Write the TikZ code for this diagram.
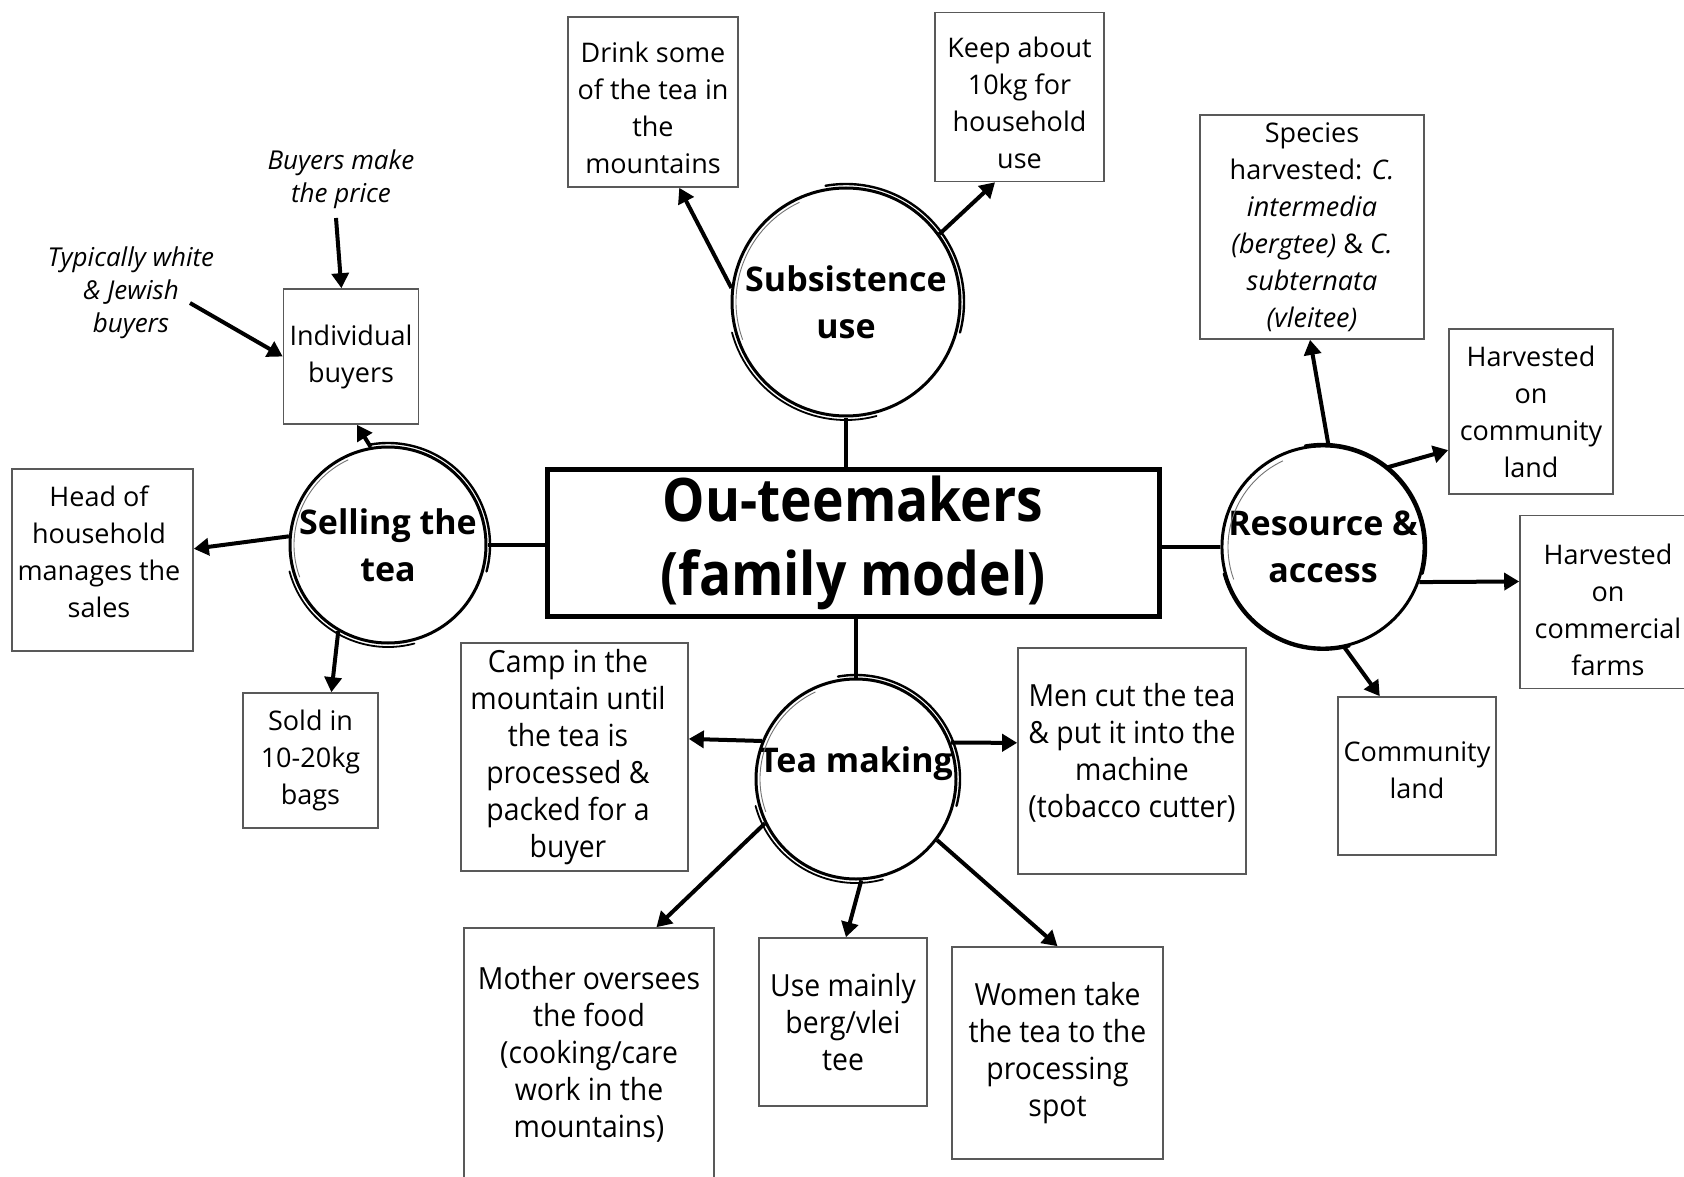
\documentclass[tikz,border=0pt]{standalone}
\usepackage{fontspec}
\setmainfont{Open Sans}
\newfontfamily\condfont[FakeStretch=0.93]{Open Sans}
\newfontfamily\titlefont[FakeStretch=0.89]{Open Sans}
\usetikzlibrary{arrows.meta,calc}
\tikzset{
 box/.style={draw=black!65, line width=1.6pt, rectangle, inner sep=0pt, align=center, font=\fontsize{27}{37}\selectfont},
 tbox/.style={box, font=\condfont\fontsize{30.5}{37}\selectfont},
 ttext/.style={inner sep=0pt, align=center, font=\condfont\fontsize{30.5}{37}\selectfont},
 btext/.style={inner sep=0pt, align=center, font=\fontsize{27}{37}\selectfont},
 note/.style={align=center, inner sep=0pt, font=\itshape\fontsize{26}{33}\selectfont},
 circ/.style={circle, draw, line width=3pt, inner sep=0pt, align=center, font=\bfseries\fontsize{34}{47}\selectfont},
 ctitle/.style={inner sep=0pt, font=\bfseries\fontsize{34}{47}\selectfont},
 arr/.style={line width=4pt, -{Triangle[length=15pt,width=17pt]}},
 link/.style={line width=4pt},
}
\newcommand\ring[3]{%
 \draw[line width=2.4pt,line cap=round] ($(#1.center)+(100:#2)$) arc[start angle=100, end angle=-15, radius=#2];
 \draw[line width=1.8pt,line cap=round] ($(#1.center)+(195:#2)$) arc[start angle=195, end angle=285, radius=#2];
 \draw[line width=0.9pt,black!55] ($(#1.center)+(115:#3)$) arc[start angle=115, end angle=200, radius=#3];
}
\begin{document}
\begin{tikzpicture}[x=1pt,y=1pt]
\useasboundingbox (0,0) rectangle (1684,-1177);
\clip (0,0) rectangle (1684,-1177);
\fill[white] (0,0) rectangle (1684,-1177);

% central
\node[draw, line width=5pt, minimum width=612pt, minimum height=147pt, inner sep=0pt, align=center,
      font=\titlefont\bfseries\fontsize{60}{74}\selectfont] (ctr) at (853,-543) {Ou-teemakers\\(family model)};

% circles
\node[circ, minimum size=196pt] (sell) at (388,-545) {Selling the\\tea};
\node[circ, minimum size=228pt] (sub) at (846,-302) {Subsistence\\use};
\node[circ, minimum size=198pt] (res) at (1323,-547) {Resource \&\\access};
\node[circ, minimum size=200pt] (tea) at (856,-779) {};
\node[ctitle] (teat) at (856,-764) {Tea making};
\ring{sell}{102}{94}
\ring{sub}{118}{110}
\ring{res}{103}{95}
\ring{tea}{104}{96}

% boxes
\node[box, minimum width=135pt, minimum height=135pt] (ib) at (351,-356.5) {Individual\\buyers};
\node[box, minimum width=181pt, minimum height=182pt] (head) at (102.5,-560) {};
\node[btext] (headt) at (99,-552) {Head of\\household\\manages the\\sales};
\node[box, minimum width=135pt, minimum height=135pt] (sold) at (310.5,-760.5) {Sold in\\10-20kg\\bags};
\node[box, minimum width=170pt, minimum height=170pt] (drink) at (653,-102) {};
\node[btext] (drinkt) at (653,-108) {Drink some\\of the tea in\\the\\mountains};
\node[box, minimum width=169pt, minimum height=169pt] (keep) at (1019.5,-97) {};
\node[btext] (keept) at (1019.5,-103) {Keep about\\10kg for\\household\\use};
\node[box, minimum width=224pt, minimum height=224pt] (sp) at (1312,-227) {Species\\harvested: \textit{C.}\\\textit{intermedia}\\\textit{(bergtee)} \& \textit{C.}\\\textit{subternata}\\\textit{(vleitee)}};
\node[box, minimum width=164pt, minimum height=165pt] (hc) at (1531,-411.5) {Harvested\\on\\community\\land};
\node[box, minimum width=176pt, minimum height=173pt] (hf) at (1608,-602) {};
\node[btext] (hft) at (1608,-610) {Harvested\\on\\commercial\\farms};
\node[box, minimum width=158pt, minimum height=158pt] (cl) at (1417,-776) {};
\node[btext] (clt) at (1417,-770) {Community\\land};
\node[box, minimum width=227pt, minimum height=228pt] (camp) at (574.5,-757) {};
\node[ttext] (campt) at (568,-757) {Camp in the\\mountain until\\the tea is\\processed \&\\packed for a\\buyer};
\node[box, minimum width=228pt, minimum height=226pt] (men) at (1132,-761) {};
\node[ttext] (ment) at (1132,-753) {Men cut the tea\\\& put it into the\\machine\\(tobacco cutter)};
\node[tbox, minimum width=250pt, minimum height=252pt] (mother) at (589,-1054) {Mother oversees\\the food\\(cooking/care\\work in the\\mountains)};
\node[tbox, minimum width=168pt, minimum height=168pt] (use) at (843,-1022) {Use mainly\\berg/vlei\\tee};
\node[tbox, minimum width=211pt, minimum height=212pt] (women) at (1057.5,-1053) {Women take\\the tea to the\\processing\\spot};

% notes
\node[note] (bmp) at (341,-179) {Buyers make\\the price};
\node[note] (tw) at (131,-293) {Typically white\\\& Jewish\\buyers};
\coordinate (bmpa) at (336,-218);
\coordinate (twa) at (190,-303);

% connectors
\draw[arr] (bmpa) -- (ib.98);
\draw[arr] (twa) -- (ib.180);
\draw[arr] (sell.100) -- (ib.-85);
\draw[arr] (sell.175) -- (head.7);
\draw[arr] (sell.-120) -- (sold.73);
\draw[link] (sell.east) -- (sell.east -| ctr.west);

\draw[arr] (sub.173) -- (drink.-73);
\draw[arr] (sub.36) -- (keep.-106);
\draw[link] (sub.south) -- (sub.south |- ctr.north);

\draw[link] (res.west) -- (res.west -| ctr.east);
\draw[arr] (res.87) -- (sp.-91);
\draw[arr] (res.51) -- (hc.-155);
\draw[arr] (res.-20) -- (hf.167);
\draw[arr] (res.-78) -- (cl.115);

\draw[link] (ctr.south -| tea.north) -- (tea.north);
\draw[arr] (tea.158) -- (camp.9);
\draw[arr] (tea.21) -- (men.171);
\draw[arr] (tea.-154) -- (mother.62);
\draw[arr] (tea.-87) -- (use.88);
\draw[arr] (tea.-37) -- (women.90);
\end{tikzpicture}
\end{document}
